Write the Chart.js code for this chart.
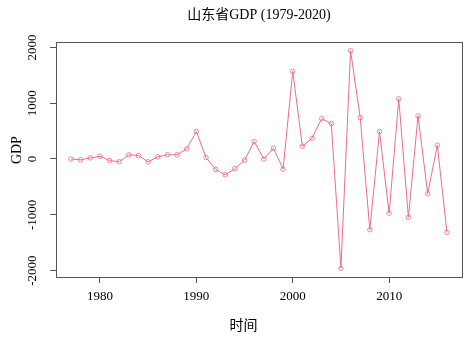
<!DOCTYPE html>
<html>
<head>
<meta charset="utf-8">
<script src="https://cdn.jsdelivr.net/npm/chart.js@4/dist/chart.umd.min.js"></script>
<style>
  html, body { margin: 0; padding: 0; background: #ffffff; }
  #wrap { width: 467px; height: 337px; }
</style>
</head>
<body>
<div id="wrap"><canvas id="c" width="467" height="337"></canvas></div>
<script>
// ---- data ----
const years = [1977,1978,1979,1980,1981,1982,1983,1984,1985,1986,1987,1988,1989,1990,
               1991,1992,1993,1994,1995,1996,1997,1998,1999,2000,2001,2002,2003,2004,
               2005,2006,2007,2008,2009,2010,2011,2012,2013,2014,2015,2016];
const gdp = [0,-15,20,50,-27,-50,75,63,-50,40,75,75,182,492,
             27,-188,-283,-175,-21,313,0,193,-182,1571,229,372,724,635,
             -1959,1941,742,-1267,492,-970,1077,-1047,773,-623,247,-1315];
const xTicks = [1980, 1990, 2000, 2010];
const yTicks = [-2000, -1000, 0, 1000, 2000];
const titleText = '山东省GDP (1979-2020)';
const xLabel = '时间';
const yLabel = 'GDP';

// R-style 4% axis extension
function ext(arr) {
  const lo = Math.min(...arr), hi = Math.max(...arr), d = (hi - lo) * 0.04;
  return [lo - d, hi + d];
}
const [xmin, xmax] = ext(years);
const [ymin, ymax] = ext(gdp);

const FONT = "'Liberation Serif', 'Times New Roman', 'Noto Sans CJK SC', serif";
const AXIS_COLOR = '#555555';
const LINE_COLOR = '#EC6E8A';

const boxPlugin = {
  id: 'box',
  afterDatasetsDraw(chart) {
    const {ctx, chartArea: a} = chart;
    ctx.save();
    ctx.strokeStyle = AXIS_COLOR;
    ctx.lineWidth = 1;
    ctx.strokeRect(Math.round(a.left) + 0.5, Math.round(a.top) + 0.5,
                   Math.round(a.right - a.left), Math.round(a.bottom - a.top));
    // axis titles (placed like R's mtext)
    ctx.fillStyle = '#000';
    ctx.font = '14px ' + FONT;
    ctx.textAlign = 'center';
    ctx.textBaseline = 'middle';
    ctx.fillText(xLabel, a.left + (a.right - a.left) * 0.462, 326);
    ctx.translate(17, a.top + (a.bottom - a.top) * 0.46);
    ctx.rotate(-Math.PI / 2);
    ctx.fillText(yLabel, 0, 0);
    ctx.restore();
  }
};

new Chart(document.getElementById('c'), {
  type: 'line',
  data: {
    datasets: [{
      data: years.map((y, i) => ({x: y, y: gdp[i]})),
      borderColor: LINE_COLOR,
      backgroundColor: 'rgba(0,0,0,0)',
      borderWidth: 1,
      pointRadius: 2.3,
      pointBorderWidth: 0.8,
      pointBorderColor: LINE_COLOR,
      pointBackgroundColor: 'rgba(0,0,0,0)',
      tension: 0
    }]
  },
  options: {
    responsive: false,
    animation: false,
    devicePixelRatio: 1,
    layout: { padding: { top: 0, left: 0, right: 5, bottom: 0 } },
    plugins: {
      legend: { display: false },
      tooltip: { enabled: false },
      title: {
        display: true,
        text: titleText,
        fullSize: false,
        color: '#000',
        font: { family: FONT, size: 14, weight: 'normal', lineHeight: 1.2 },
        padding: { top: 7, bottom: 18.2 }
      }
    },
    scales: {
      x: {
        type: 'linear',
        min: xmin, max: xmax,
        afterBuildTicks(s) { s.ticks = xTicks.map(v => ({value: v})); },
        afterFit(s) { s.height = 60; },
        grid: { display: true, drawOnChartArea: false, drawTicks: true, tickLength: 6, color: AXIS_COLOR, tickColor: AXIS_COLOR },
        border: { display: false },
        ticks: { color: '#000', font: { family: FONT, size: 13 }, padding: 6, maxRotation: 0, autoSkip: false, callback: v => String(v) },
        title: { display: false }
      },
      y: {
        type: 'linear',
        min: ymin, max: ymax,
        afterBuildTicks(s) { s.ticks = yTicks.map(v => ({value: v})); },
        afterFit(s) { s.width = 56; },
        grid: { display: true, drawOnChartArea: false, drawTicks: true, tickLength: 6, color: AXIS_COLOR, tickColor: AXIS_COLOR },
        border: { display: false },
        ticks: { color: '#000', font: { family: FONT, size: 13 }, padding: 2, minRotation: 90, maxRotation: 90, crossAlign: 'center', autoSkip: false, callback: v => String(v) },
        title: { display: false }
      }
    }
  },
  plugins: [boxPlugin]
});
</script>
</body>
</html>
